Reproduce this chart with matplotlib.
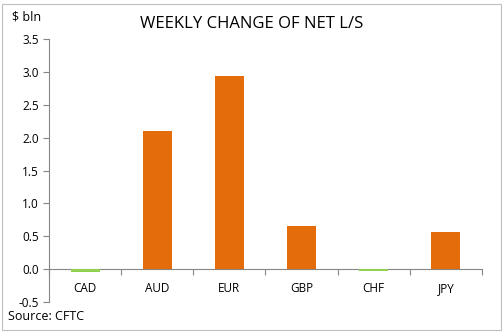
import matplotlib.pyplot as plt
from matplotlib.patches import Rectangle

currencies = ["CAD", "AUD", "EUR", "GBP", "CHF", "JPY"]
weekly_change = [-0.04, 2.10, 2.93, 0.66, -0.03, 0.56]
bar_colors = ["#92D050", "#E46C0A", "#E46C0A", "#E46C0A", "#92D050", "#E46C0A"]
y_ticks = [-0.5, 0.0, 0.5, 1.0, 1.5, 2.0, 2.5, 3.0, 3.5]

plt.rcParams["font.family"] = ["Open Sans", "DejaVu Sans"]

fig = plt.figure(figsize=(5.04, 3.32), dpi=100)
ax = fig.add_axes([49 / 504, 1 - 302 / 332, 433 / 504, 263 / 332])

x = list(range(len(currencies)))
ax.bar(x, weekly_change, width=0.4, color=bar_colors, zorder=3)

ax.set_xlim(-0.5, len(currencies) - 0.5)
ax.set_ylim(-0.5, 3.5)
ax.set_yticks(y_ticks)
ax.set_yticklabels([f"{v:.1f}" for v in y_ticks], fontsize=8.5)

# category labels sit below the plot, tick marks between categories
ax.set_xticks([i + 0.5 for i in x[:-1]] + [-0.5, len(currencies) - 0.5])
ax.set_xticklabels([])
for i, name in zip(x, currencies):
    ax.text(i, -0.2, name, ha="center", va="top", fontsize=8.5)

for side in ["top", "right"]:
    ax.spines[side].set_visible(False)
ax.spines["bottom"].set_position(("data", 0))
ax.spines["bottom"].set_color("#868686")
ax.spines["left"].set_color("#868686")
ax.tick_params(axis="both", direction="out", colors="#868686", labelcolor="black", length=4, width=0.8)

fig.text(0.5, 1 - 24 / 332, "WEEKLY CHANGE OF NET L/S", ha="center", va="center", fontsize=12)
fig.text(12 / 504, 1 - 17 / 332, "$ bln", ha="left", va="center", fontsize=9)
fig.text(8 / 504, 1 - 316 / 332, "Source: CFTC", ha="left", va="center", fontsize=9)

fig.patches.append(Rectangle((2 / 504, 2 / 332), 499 / 504, 326 / 332, transform=fig.transFigure,
                             fill=False, edgecolor="#BFBFBF", linewidth=0.8))

fig.savefig("out.png", dpi=100)
